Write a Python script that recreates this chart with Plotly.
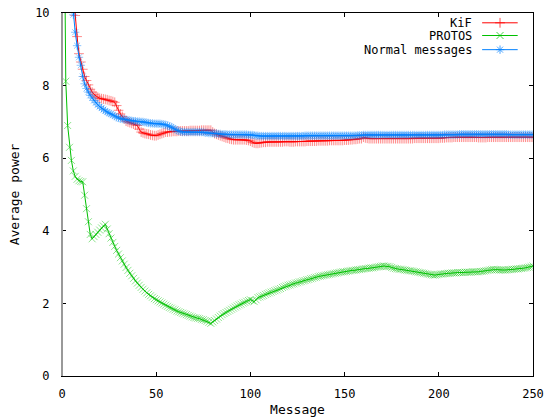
import plotly.graph_objects as go

# ---------------- data ----------------
messages = list(range(1, 251))

kif = [
    16.0, 14.5, 13.0, 12.0, 11.2, 10.6, 9.93, 9.35, 8.88, 8.65,
    8.45, 8.25, 8.14, 8.02, 7.90, 7.82, 7.76, 7.71, 7.68, 7.65,
    7.64, 7.63, 7.62, 7.61, 7.59, 7.58, 7.56, 7.54, 7.45, 7.32,
    7.22, 7.15, 7.08, 7.02, 7.00, 6.98, 6.96, 6.94, 6.92, 6.90,
    6.80, 6.72, 6.70, 6.68, 6.67, 6.66, 6.64, 6.63, 6.62, 6.62,
    6.64, 6.66, 6.68, 6.70, 6.72, 6.72, 6.73, 6.73, 6.74, 6.74,
    6.74, 6.75, 6.75, 6.75, 6.75, 6.75, 6.75, 6.76, 6.76, 6.76,
    6.76, 6.76, 6.76, 6.77, 6.77, 6.77, 6.77, 6.77, 6.77, 6.72,
    6.68, 6.66, 6.64, 6.62, 6.60, 6.58, 6.56, 6.55, 6.53, 6.52,
    6.51, 6.51, 6.51, 6.51, 6.51, 6.51, 6.51, 6.50, 6.49, 6.47,
    6.44, 6.42, 6.41, 6.41, 6.42, 6.43, 6.44, 6.44, 6.45, 6.45,
    6.45, 6.45, 6.45, 6.45, 6.45, 6.45, 6.45, 6.46, 6.46, 6.46,
    6.45, 6.45, 6.45, 6.46, 6.46, 6.46, 6.46, 6.46, 6.46, 6.47,
    6.47, 6.47, 6.47, 6.47, 6.47, 6.48, 6.48, 6.48, 6.48, 6.48,
    6.48, 6.49, 6.49, 6.49, 6.49, 6.49, 6.49, 6.49, 6.49, 6.50,
    6.50, 6.50, 6.51, 6.51, 6.52, 6.52, 6.53, 6.54, 6.54, 6.58,
    6.56, 6.55, 6.54, 6.54, 6.54, 6.54, 6.54, 6.54, 6.54, 6.54,
    6.54, 6.54, 6.54, 6.54, 6.54, 6.54, 6.54, 6.54, 6.54, 6.54,
    6.54, 6.54, 6.54, 6.54, 6.54, 6.54, 6.55, 6.55, 6.55, 6.55,
    6.55, 6.55, 6.55, 6.55, 6.55, 6.55, 6.55, 6.55, 6.55, 6.55,
    6.56, 6.56, 6.56, 6.57, 6.57, 6.57, 6.57, 6.58, 6.58, 6.58,
    6.58, 6.58, 6.58, 6.58, 6.58, 6.58, 6.58, 6.58, 6.58, 6.58,
    6.57, 6.57, 6.57, 6.57, 6.57, 6.58, 6.58, 6.58, 6.58, 6.58,
    6.58, 6.58, 6.58, 6.58, 6.58, 6.58, 6.58, 6.58, 6.58, 6.58,
    6.58, 6.58, 6.58, 6.58, 6.58, 6.58, 6.58, 6.58, 6.58, 6.58,
]

protos = [
    14.0, 8.12, 6.90, 6.30, 5.94, 5.65, 5.50, 5.42, 5.38, 5.36,
    5.35, 4.98, 4.61, 4.25, 3.90, 3.78, 3.84, 3.90, 3.96, 4.02,
    4.08, 4.13, 4.18, 4.05, 3.92, 3.80, 3.68, 3.57, 3.46, 3.36,
    3.26, 3.17, 3.08, 2.99, 2.91, 2.83, 2.76, 2.69, 2.62, 2.56,
    2.50, 2.44, 2.39, 2.34, 2.29, 2.25, 2.21, 2.17, 2.13, 2.10,
    2.07, 2.04, 2.01, 1.98, 1.95, 1.92, 1.89, 1.87, 1.84, 1.82,
    1.79, 1.77, 1.75, 1.73, 1.71, 1.69, 1.67, 1.65, 1.63, 1.61,
    1.60, 1.59, 1.58, 1.56, 1.55, 1.53, 1.51, 1.48, 1.45, 1.49,
    1.53, 1.57, 1.61, 1.65, 1.69, 1.72, 1.75, 1.78, 1.81, 1.84,
    1.87, 1.90, 1.93, 1.96, 1.98, 2.01, 2.03, 2.06, 2.08, 2.10,
    2.08, 2.05, 2.10, 2.16, 2.18, 2.20, 2.22, 2.25, 2.27, 2.29,
    2.31, 2.33, 2.35, 2.37, 2.39, 2.41, 2.44, 2.46, 2.48, 2.50,
    2.51, 2.53, 2.54, 2.56, 2.57, 2.59, 2.60, 2.62, 2.63, 2.65,
    2.66, 2.68, 2.69, 2.71, 2.72, 2.74, 2.75, 2.76, 2.77, 2.78,
    2.79, 2.80, 2.81, 2.82, 2.83, 2.84, 2.85, 2.86, 2.87, 2.87,
    2.88, 2.89, 2.90, 2.91, 2.91, 2.92, 2.93, 2.93, 2.94, 2.95,
    2.96, 2.96, 2.97, 2.98, 2.98, 2.99, 3.00, 3.01, 3.02, 3.03,
    3.03, 3.02, 3.02, 3.01, 2.99, 2.97, 2.96, 2.95, 2.94, 2.94,
    2.93, 2.92, 2.91, 2.90, 2.90, 2.89, 2.88, 2.87, 2.86, 2.85,
    2.84, 2.83, 2.82, 2.81, 2.80, 2.79, 2.78, 2.78, 2.79, 2.80,
    2.81, 2.81, 2.82, 2.82, 2.83, 2.83, 2.84, 2.84, 2.84, 2.85,
    2.85, 2.85, 2.85, 2.86, 2.86, 2.86, 2.86, 2.87, 2.87, 2.87,
    2.87, 2.88, 2.88, 2.89, 2.90, 2.91, 2.92, 2.93, 2.94, 2.93,
    2.93, 2.92, 2.92, 2.92, 2.92, 2.92, 2.93, 2.93, 2.94, 2.94,
    2.95, 2.95, 2.96, 2.96, 2.97, 2.98, 2.99, 3.00, 3.01, 3.03,
]

normal = [
    16.0, 14.0, 12.5, 11.5, 10.6, 9.95, 9.47, 9.10, 8.78, 8.56,
    8.25, 8.05, 7.92, 7.82, 7.73, 7.66, 7.59, 7.53, 7.47, 7.42,
    7.38, 7.34, 7.30, 7.27, 7.24, 7.22, 7.19, 7.16, 7.13, 7.11,
    7.09, 7.08, 7.07, 7.06, 7.05, 7.04, 7.03, 7.02, 7.02, 7.01,
    7.01, 7.00, 7.00, 6.99, 6.98, 6.97, 6.96, 6.96, 6.95, 6.95,
    6.95, 6.95, 6.94, 6.93, 6.92, 6.90, 6.88, 6.86, 6.83, 6.80,
    6.77, 6.75, 6.73, 6.72, 6.72, 6.72, 6.72, 6.72, 6.72, 6.72,
    6.72, 6.72, 6.72, 6.72, 6.72, 6.70, 6.70, 6.69, 6.69, 6.69,
    6.68, 6.68, 6.67, 6.67, 6.66, 6.66, 6.66, 6.65, 6.65, 6.65,
    6.65, 6.65, 6.65, 6.65, 6.65, 6.65, 6.65, 6.65, 6.64, 6.64,
    6.64, 6.63, 6.62, 6.62, 6.61, 6.61, 6.61, 6.61, 6.61, 6.61,
    6.61, 6.61, 6.61, 6.61, 6.61, 6.61, 6.61, 6.61, 6.61, 6.61,
    6.61, 6.61, 6.61, 6.61, 6.61, 6.61, 6.61, 6.61, 6.62, 6.62,
    6.62, 6.62, 6.62, 6.62, 6.62, 6.62, 6.62, 6.62, 6.62, 6.62,
    6.62, 6.62, 6.62, 6.62, 6.62, 6.62, 6.62, 6.62, 6.62, 6.62,
    6.62, 6.62, 6.62, 6.62, 6.62, 6.62, 6.63, 6.63, 6.63, 6.64,
    6.64, 6.64, 6.64, 6.64, 6.64, 6.64, 6.64, 6.64, 6.64, 6.64,
    6.64, 6.64, 6.64, 6.64, 6.64, 6.64, 6.64, 6.64, 6.64, 6.64,
    6.64, 6.64, 6.64, 6.64, 6.64, 6.64, 6.64, 6.64, 6.64, 6.64,
    6.64, 6.64, 6.64, 6.64, 6.64, 6.64, 6.64, 6.64, 6.64, 6.64,
    6.64, 6.64, 6.65, 6.65, 6.65, 6.65, 6.65, 6.65, 6.65, 6.65,
    6.66, 6.66, 6.66, 6.66, 6.66, 6.66, 6.66, 6.66, 6.66, 6.66,
    6.66, 6.66, 6.66, 6.66, 6.66, 6.66, 6.66, 6.66, 6.66, 6.66,
    6.66, 6.66, 6.66, 6.66, 6.66, 6.66, 6.65, 6.65, 6.65, 6.65,
    6.65, 6.65, 6.65, 6.65, 6.65, 6.65, 6.65, 6.65, 6.65, 6.65,
]

series_names = ["KiF", "PROTOS", "Normal messages"]
x_ticks = [0, 50, 100, 150, 200, 250]
y_ticks = [0, 2, 4, 6, 8, 10]

# ---------------- style ----------------
FONT = "DejaVu Sans Mono"
styles = [
    dict(color="#ff0000", mark="rgba(255,0,0,0.45)", symbol="cross-thin"),
    dict(color="#00c000", mark="rgba(0,192,0,0.45)", symbol="x-thin"),
    dict(color="#0080ff", mark="rgba(0,128,255,0.45)", symbol="asterisk"),
]

fig = go.Figure()
for name, ys, st in zip(series_names, [kif, protos, normal], styles):
    fig.add_trace(go.Scatter(
        x=messages, y=ys, name=name, mode="lines+markers",
        line=dict(color=st["color"], width=1),
        marker=dict(symbol=st["symbol"], size=7,
                    line=dict(color=st["mark"], width=1)),
        cliponaxis=True, showlegend=False,
    ))

# manual gnuplot-style key: text then sample
key_y = [0.973, 0.938, 0.899]
for name, st, ky in zip(series_names, styles, key_y):
    fig.add_annotation(
        xref="paper", yref="paper", x=0.874, y=ky, text=name,
        xanchor="right", yanchor="middle", showarrow=False,
        font=dict(family=FONT, size=12, color="black"),
    )
    fig.add_trace(go.Scatter(
        x=[0.892, 0.930, 0.9675], y=[ky, ky, ky], xaxis="x2", yaxis="y2",
        mode="lines+markers", showlegend=False, hoverinfo="skip",
        line=dict(color=st["color"], width=1),
        marker=dict(symbol=st["symbol"], size=[0, 7, 0],
                    line=dict(color=st["color"], width=1)),
    ))

# gray left border, as in the gnuplot output
fig.add_shape(type="line", xref="paper", yref="paper", x0=0, x1=0, y0=0, y1=1,
              line=dict(color="#999999", width=2))

fig.update_layout(
    width=548, height=417,
    margin=dict(l=62, r=15, t=13, b=41, autoexpand=False),
    paper_bgcolor="white", plot_bgcolor="white",
    font=dict(family=FONT, size=12, color="black"),
    showlegend=False,
    xaxis=dict(
        range=[0, 250], tickvals=x_ticks, ticks="inside", ticklen=4,
        tickcolor="black", showline=True, linecolor="black", linewidth=1,
        mirror="ticks", showgrid=False, zeroline=False, automargin=False,
        ticklabelstandoff=7,
        title=dict(text="Message", font=dict(family=FONT, size=13), standoff=5),
    ),
    yaxis=dict(
        range=[0, 10], tickvals=y_ticks, ticks="inside", ticklen=4,
        tickcolor="black", showline=True, linecolor="black", linewidth=1,
        mirror="ticks", showgrid=False, zeroline=False, automargin=False,
        ticklabelstandoff=9,
        title=dict(text="Average power", font=dict(family=FONT, size=13), standoff=12),
    ),
    xaxis2=dict(range=[0, 1], overlaying="x", visible=False),
    yaxis2=dict(range=[0, 1], overlaying="y", visible=False),
)

fig.write_html(
    "out.html",
    config={"displayModeBar": False},
    post_script="document.body.style.margin='0';document.body.style.padding='0';",
)
